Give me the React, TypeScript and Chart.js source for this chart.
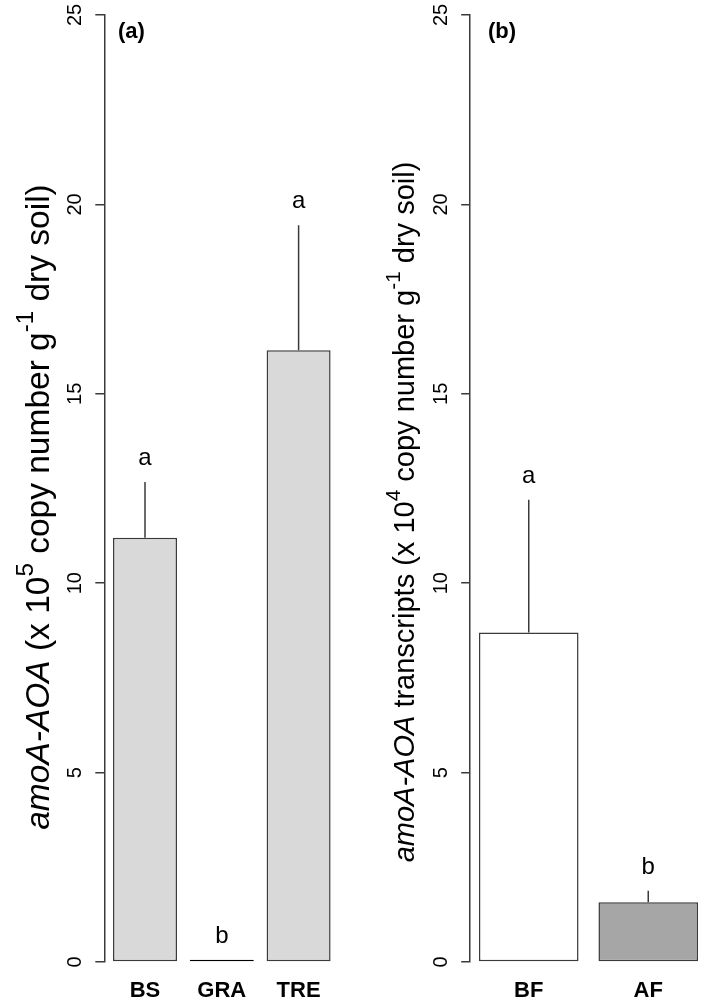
import React, { useEffect, useRef } from 'react';
import { Chart, registerables } from 'chart.js';
Chart.register(...registerables);

// ---------- data ----------
const categoriesA = ['BS', 'GRA', 'TRE'];
const meansA = [11.2, 0.06, 16.15];
const errorsA = [1.47, 0, 3.3];
const lettersA = ['a', 'b', 'a'];

const categoriesB = ['BF', 'AF'];
const meansB = [8.7, 1.58];
const errorsB = [3.5, 0.3];
const lettersB = ['a', 'b'];

const yTickValues = [0, 5, 10, 15, 20, 25];

type Part = { text: string; italic?: boolean; sup?: boolean };
const titleA: Part[] = [
  { text: 'amoA-AOA', italic: true },
  { text: ' (x 10' },
  { text: '5', sup: true },
  { text: ' copy number g' },
  { text: '-1', sup: true },
  { text: ' dry soil)' },
];
const titleB: Part[] = [
  { text: 'amoA-AOA', italic: true },
  { text: ' transcripts (x 10' },
  { text: '4', sup: true },
  { text: ' copy number g' },
  { text: '-1', sup: true },
  { text: ' dry soil)' },
];

const FAMILY = '"Liberation Sans", Arial, Helvetica, sans-serif';

type Panel = {
  left: number;
  width: number;
  yAxisWidth: number;
  padRight: number;
  xMin: number;
  xMax: number;
  categories: string[];
  means: number[];
  errors: number[];
  letters: string[];
  fills: string[];
  borders: string[];
  panelLabel: string;
  labelX: number;
  tickLabelX: number;
  title: Part[];
  titleX: number;
  titleY: number;
  titleSize: number;
};

const panels: Panel[] = [
  {
    left: 0,
    width: 355,
    yAxisWidth: 104.3,
    padRight: 15.7,
    xMin: -0.53,
    xMax: 2.53,
    categories: categoriesA,
    means: meansA,
    errors: errorsA,
    letters: lettersA,
    fills: ['#d9d9d9', '#d9d9d9', '#d9d9d9'],
    borders: ['#3a3a3a', '#000000', '#3a3a3a'],
    panelLabel: '(a)',
    labelX: 118,
    tickLabelX: 75,
    title: titleA,
    titleX: 40,
    titleY: 507,
    titleSize: 33.5,
  },
  {
    left: 355,
    width: 354,
    yAxisWidth: 115.2,
    padRight: 2.2,
    xMin: -0.49,
    xMax: 1.49,
    categories: categoriesB,
    means: meansB,
    errors: errorsB,
    letters: lettersB,
    fills: ['#ffffff', '#a6a6a6'],
    borders: ['#3a3a3a', '#3a3a3a'],
    panelLabel: '(b)',
    labelX: 133,
    tickLabelX: 86.5,
    title: titleB,
    titleX: 51,
    titleY: 512,
    titleSize: 29,
  },
];

function drawTitle(ctx: CanvasRenderingContext2D, parts: Part[], cx: number, cy: number, size: number) {
  const supSize = size * 0.72;
  const fontFor = (p: Part) => `${p.italic ? 'italic ' : ''}${p.sup ? supSize : size}px ${FAMILY}`;
  let total = 0;
  const widths = parts.map((p) => {
    ctx.font = fontFor(p);
    const w = ctx.measureText(p.text).width;
    total += w;
    return w;
  });
  ctx.save();
  ctx.translate(cx, cy);
  ctx.rotate(-Math.PI / 2);
  ctx.textAlign = 'left';
  ctx.textBaseline = 'middle';
  ctx.fillStyle = '#000';
  let x = -total / 2;
  parts.forEach((p, i) => {
    ctx.font = fontFor(p);
    ctx.fillText(p.text, x, p.sup ? -size * 0.42 : 0);
    x += widths[i];
  });
  ctx.restore();
}

function makePlugin(p: Panel) {
  return {
    id: 'annot',
    afterDraw(chart: any) {
      const ctx: CanvasRenderingContext2D = chart.ctx;
      const xs = chart.scales.x;
      const ys = chart.scales.y;
      ctx.save();
      // error bars
      ctx.strokeStyle = '#3a3a3a';
      ctx.lineWidth = 1.5;
      p.means.forEach((m, i) => {
        if (p.errors[i] > 0) {
          const px = xs.getPixelForValue(i);
          ctx.beginPath();
          ctx.moveTo(px, ys.getPixelForValue(m));
          ctx.lineTo(px, ys.getPixelForValue(m + p.errors[i]));
          ctx.stroke();
        }
      });
      // significance letters
      ctx.fillStyle = '#000';
      ctx.font = `24px ${FAMILY}`;
      ctx.textAlign = 'center';
      ctx.textBaseline = 'alphabetic';
      p.letters.forEach((l, i) => {
        const top = p.means[i] + p.errors[i];
        ctx.fillText(l, xs.getPixelForValue(i), ys.getPixelForValue(top) - 17);
      });
      // rotated y tick labels
      ctx.font = `20px ${FAMILY}`;
      yTickValues.forEach((v) => {
        ctx.save();
        ctx.translate(p.tickLabelX, ys.getPixelForValue(v));
        ctx.rotate(-Math.PI / 2);
        ctx.textAlign = 'center';
        ctx.textBaseline = 'middle';
        ctx.fillText(String(v), 0, 0);
        ctx.restore();
      });
      // panel label
      ctx.font = `bold 22px ${FAMILY}`;
      ctx.textAlign = 'left';
      ctx.textBaseline = 'middle';
      ctx.fillText(p.panelLabel, p.labelX, 32);
      // axis title
      drawTitle(ctx, p.title, p.titleX, p.titleY, p.titleSize);
      ctx.restore();
    },
  };
}

function PanelChart({ p }: { p: Panel }) {
  const ref = useRef<HTMLCanvasElement>(null);
  useEffect(() => {
    if (!ref.current) return;
    const chart = new Chart(ref.current, {
      type: 'bar',
      data: {
        datasets: [
          {
            data: p.means.map((m, i) => ({ x: i, y: m })),
            backgroundColor: p.fills,
            borderColor: p.borders,
            borderWidth: 1.5,
            borderSkipped: false,
            barPercentage: 1 / 1.2,
            categoryPercentage: 1,
          } as any,
        ],
      },
      options: {
        responsive: false,
        animation: false,
        devicePixelRatio: 1,
        layout: { padding: { top: 15, left: 0, right: p.padRight, bottom: 0 } },
        plugins: { legend: { display: false }, tooltip: { enabled: false } },
        scales: {
          x: {
            type: 'linear',
            offset: false,
            min: p.xMin,
            max: p.xMax,
            afterBuildTicks: (s: any) => {
              s.ticks = p.categories.map((_, i) => ({ value: i }));
            },
            afterFit: (s: any) => {
              s.height = 46;
            },
            ticks: {
              autoSkip: false,
              maxRotation: 0,
              minRotation: 0,
              padding: 16,
              color: '#000',
              font: { family: FAMILY, size: 22, weight: 'bold' },
              callback: (_v: any, i: number) => p.categories[i] ?? '',
            },
            grid: { display: false, drawTicks: false, offset: false },
            border: { display: false },
          },
          y: {
            min: 0,
            max: 25,
            afterBuildTicks: (s: any) => {
              s.ticks = yTickValues.map((v) => ({ value: v }));
            },
            afterFit: (s: any) => {
              s.width = p.yAxisWidth;
            },
            ticks: { display: false },
            grid: {
              drawOnChartArea: false,
              drawTicks: true,
              tickLength: 9,
              color: '#3a3a3a',
              lineWidth: 1.5,
            },
            border: { display: true, color: '#3a3a3a', width: 1.5 },
          },
        },
      } as any,
      plugins: [makePlugin(p)],
    });
    return () => chart.destroy();
  }, [p]);
  return (
    <canvas
      ref={ref}
      width={p.width}
      height={1008}
      style={{ position: 'absolute', left: p.left, top: 0, width: p.width, height: 1008 }}
    />
  );
}

export default function App() {
  return (
    <div style={{ position: 'fixed', left: 0, top: 0, width: 709, height: 1008, background: '#fff', overflow: 'hidden' }}>
      {panels.map((p) => (
        <PanelChart key={p.panelLabel} p={p} />
      ))}
    </div>
  );
}
